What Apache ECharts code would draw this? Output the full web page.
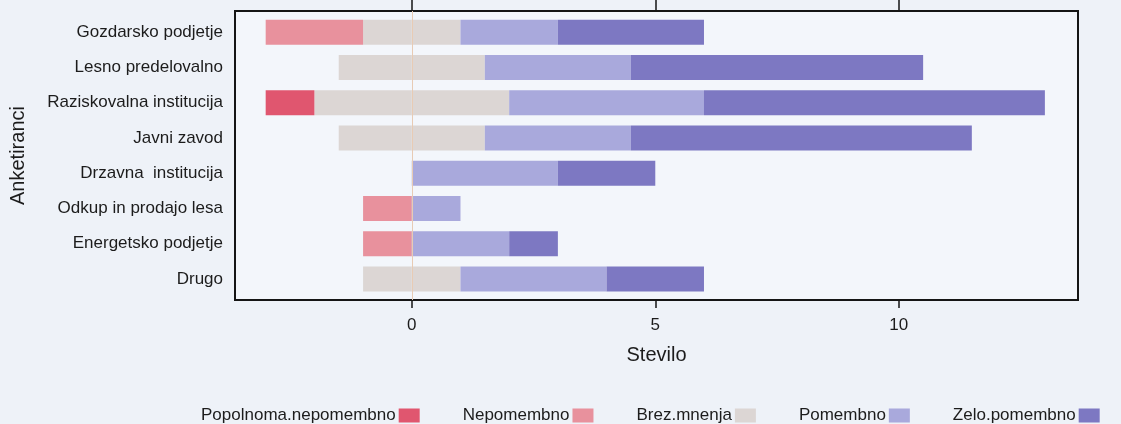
<!DOCTYPE html>
<html>
<head>
<meta charset="utf-8">
<script src="https://cdn.jsdelivr.net/npm/echarts@6/dist/echarts.min.js"></script>
<style>
html,body{margin:0;padding:0;background:#eef2f8;}
#c{width:1121px;height:424px;}
</style>
</head>
<body>
<div id="c"></div>
<script>
const categories = ['Gozdarsko podjetje','Lesno predelovalno','Raziskovalna institucija','Javni zavod','Drzavna  institucija','Odkup in prodajo lesa','Energetsko podjetje','Drugo'];
const popolnomaNepomembno = [0,0,1,0,0,0,0,0];
const nepomembno = [2,0,0,0,0,1,1,0];
const brezMnenja = [2,3,4,3,0,0,0,2];
const pomembno = [2,3,4,3,3,1,2,3];
const zeloPomembno = [3,6,7,7,2,0,1,2];
const xTicks = [0,5,10];
const legendNames = ['Popolnoma.nepomembno','Nepomembno','Brez.mnenja','Pomembno','Zelo.pomembno'];
const colors = ['#e0566f','#e8919d','#dcd6d4','#a9a9dc','#7d78c2'];

const font = 'Liberation Sans, Arial, sans-serif';
const txt = '#1c1c1c';
const xMin = -3.63, xMax = 13.68;

function bar(name, data, color){
  return {type:'bar', name, stack:'s', data, barWidth:25, xAxisIndex:0, yAxisIndex:0,
    itemStyle:{color}, z:3, emphasis:{disabled:true}};
}

const chart = echarts.init(document.getElementById('c'), null, {renderer:'canvas'});
chart.setOption({
  animation:false,
  backgroundColor:'#eef2f8',
  textStyle:{fontFamily:font},
  grid:[
    {left:235, right:43, top:14.5, bottom:127.5, show:false},
    {left:235, right:43, top:11, bottom:124, show:true, backgroundColor:'#f3f6fb', borderColor:'#151515', borderWidth:2}
  ],
  xAxis:[
    {gridIndex:0, type:'value', min:xMin, max:xMax, show:false},
    {gridIndex:1, type:'value', min:xMin, max:xMax, position:'bottom',
      axisLine:{show:false}, splitLine:{show:false},
      axisTick:{show:true, length:8, customValues:xTicks, lineStyle:{color:'#151515', width:1.5}},
      axisLabel:{show:true, customValues:xTicks, margin:17, fontSize:17, color:txt, fontFamily:font},
      name:'Stevilo', nameLocation:'middle', nameGap:45,
      nameTextStyle:{fontSize:20, color:txt, fontFamily:font}},
    {gridIndex:1, type:'value', min:xMin, max:xMax, position:'top',
      axisLine:{show:false}, splitLine:{show:false},
      axisTick:{show:true, length:11, customValues:xTicks, lineStyle:{color:'#151515', width:1.5}},
      axisLabel:{show:false}}
  ],
  yAxis:[
    {gridIndex:0, type:'category', data:categories, inverse:true,
      axisLine:{show:false}, axisTick:{show:false}, splitLine:{show:false},
      axisLabel:{margin:12, fontSize:17, color:txt, fontFamily:font},
      name:'Anketiranci', nameLocation:'middle', nameRotate:90, nameGap:207,
      nameTextStyle:{fontSize:20, color:txt, fontFamily:font}},
    {gridIndex:1, type:'value', min:0, max:1, show:false}
  ],
  legend:{
    data:legendNames, left:196, top:402, itemGap:43, itemWidth:21, itemHeight:14,
    align:'right', icon:'rect', selectedMode:false,
    textStyle:{fontSize:17, color:txt, fontFamily:font, padding:[0,-2,0,0]}
  },
  series:[
    {type:'line', data:[], xAxisIndex:1, yAxisIndex:1, z:1,
      markLine:{silent:true, symbol:'none', label:{show:false},
        lineStyle:{color:'#e8cbb4', width:1, type:'solid'}, data:[{xAxis:0}]}},
    bar('Brez.mnenja', brezMnenja.map(v => -v/2), colors[2]),
    bar('Nepomembno', nepomembno.map(v => -v), colors[1]),
    bar('Popolnoma.nepomembno', popolnomaNepomembno.map(v => -v), colors[0]),
    bar('Brez.mnenja', brezMnenja.map(v => v/2), colors[2]),
    bar('Pomembno', pomembno, colors[3]),
    bar('Zelo.pomembno', zeloPomembno, colors[4])
  ]
});
</script>
</body>
</html>
